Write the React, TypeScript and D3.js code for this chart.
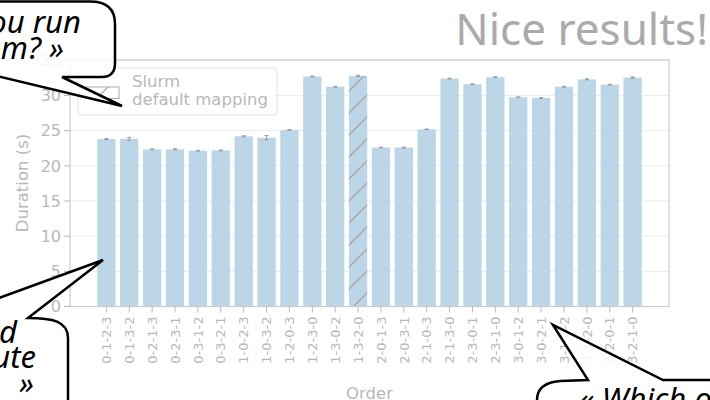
import React from "react";
import * as d3 from "d3";

// permutation orders tested
const orders = [
  "0-1-2-3", "0-1-3-2", "0-2-1-3", "0-2-3-1", "0-3-1-2", "0-3-2-1",
  "1-0-2-3", "1-0-3-2", "1-2-0-3", "1-2-3-0", "1-3-0-2", "1-3-2-0",
  "2-0-1-3", "2-0-3-1", "2-1-0-3", "2-1-3-0", "2-3-0-1", "2-3-1-0",
  "3-0-1-2", "3-0-2-1", "3-1-0-2", "3-1-2-0", "3-2-0-1", "3-2-1-0",
];
const durations = [
  23.8, 23.85, 22.35, 22.35, 22.15, 22.2,
  24.2, 24.0, 25.1, 32.7, 31.25, 32.8,
  22.6, 22.6, 25.2, 32.4, 31.6, 32.6,
  29.75, 29.65, 31.25, 32.3, 31.55, 32.55,
];
const errors = [
  0.08, 0.2, 0.06, 0.08, 0.05, 0.05,
  0.08, 0.3, 0.05, 0.06, 0.05, 0.08,
  0.05, 0.08, 0.04, 0.06, 0.06, 0.08,
  0.06, 0.05, 0.06, 0.08, 0.05, 0.1,
];
const slurmDefault = "1-3-2-0";
const yTicks = [0, 5, 10, 15, 20, 25, 30, 35];

const width = 710;
const height = 400;
const margin = { top: 60, right: 41, bottom: 93.5, left: 70 };

const grey = "#b8b8b8";
const barColor = "#bcd6e8";

export default function App() {
  const x = d3
    .scaleBand()
    .domain(orders)
    .range([margin.left, width - margin.right])
    .paddingInner(0.2)
    .paddingOuter(1.19);
  const y = d3
    .scaleLinear()
    .domain([0, 35.05])
    .range([height - margin.bottom, margin.top]);

  const x0 = margin.left;
  const x1 = width - margin.right;
  const y0 = height - margin.bottom;
  const y1 = margin.top;

  return (
    <svg
      width={width}
      height={height}
      style={{ position: "absolute", left: 0, top: 0, display: "block" }}
      fontFamily="DejaVu Sans"
    >
      <defs>
        <pattern id="hatch" patternUnits="userSpaceOnUse" width={22} height={22}>
          <rect width={22} height={22} fill={barColor} />
          <path d="M0,22 L22,0 M-2,2 L2,-2 M20,24 L24,20" stroke="#a8a8a8" strokeWidth={1.4} />
        </pattern>
        <pattern id="hatchLegend" patternUnits="userSpaceOnUse" width={22} height={22} x={86} y={87}>
          <rect width={22} height={22} fill="#fff" />
          <path d="M0,22 L22,0 M-2,2 L2,-2 M20,24 L24,20" stroke="#a8a8a8" strokeWidth={1.4} />
        </pattern>
      </defs>

      <rect width={width} height={height} fill="#fff" />

      {/* grid */}
      {yTicks.map((t) => (
        <line key={"g" + t} x1={x0} x2={x1} y1={y(t)} y2={y(t)} stroke="#ebebeb" strokeWidth={1} />
      ))}

      {/* bars */}
      {orders.map((o, i) => (
        <rect
          key={o}
          x={x(o)}
          y={y(durations[i])}
          width={x.bandwidth()}
          height={y(0) - y(durations[i])}
          fill={o === slurmDefault ? "url(#hatch)" : barColor}
        />
      ))}

      {/* error bars */}
      {orders.map((o, i) => {
        const cx = (x(o) as number) + x.bandwidth() / 2;
        const lo = y(durations[i] - errors[i]);
        const hi = y(durations[i] + errors[i]);
        return (
          <g key={"e" + o} stroke="#9a9a9a" strokeWidth={1}>
            <line x1={cx} x2={cx} y1={lo} y2={hi} />
            <line x1={cx - 2} x2={cx + 2} y1={lo} y2={lo} />
            <line x1={cx - 2} x2={cx + 2} y1={hi} y2={hi} />
          </g>
        );
      })}

      {/* frame */}
      <rect x={x0} y={y1} width={x1 - x0} height={y0 - y1} fill="none" stroke="#cccccc" strokeWidth={1.2} />

      {/* y axis */}
      {yTicks.map((t) => (
        <g key={"y" + t}>
          <line x1={x0 - 6} x2={x0} y1={y(t)} y2={y(t)} stroke={grey} strokeWidth={1} />
          <text x={x0 - 9} y={y(t)} dy="0.36em" textAnchor="end" fontSize={16} fill={grey}>
            {t}
          </text>
        </g>
      ))}
      <text
        transform={`translate(22,183) rotate(-90)`}
        textAnchor="middle"
        dy="0.36em"
        fontSize={16.5}
        fill={grey}
      >
        Duration (s)
      </text>

      {/* x axis */}
      {orders.map((o) => {
        const cx = (x(o) as number) + x.bandwidth() / 2;
        return (
          <g key={"x" + o}>
            <line x1={cx} x2={cx} y1={y0} y2={y0 + 6} stroke={grey} strokeWidth={1} />
            <text
              transform={`translate(${cx},${y0 + 10}) rotate(-90)`}
              textAnchor="end"
              dy="0.36em"
              fontSize={13}
              fill={grey}
            >
              {o}
            </text>
          </g>
        );
      })}
      <text x={(x0 + x1) / 2} y={399} textAnchor="middle" fontSize={16.5} fill={grey}>
        Order
      </text>

      {/* legend */}
      <rect x={78} y={68} width={199} height={47} rx={3} fill="#fff" fillOpacity={0.8} stroke="#e3e3e3" />
      <rect x={86} y={87} width={33} height={11.5} fill="url(#hatchLegend)" stroke="#aaa" strokeWidth={1} />
      <text x={132} y={87} fontSize={16.5} fill={grey}>Slurm</text>
      <text x={132} y={105} fontSize={16.5} fill={grey}>default mapping</text>

      {/* title */}
      <text x={708} y={45} textAnchor="end" fontFamily="Noto Sans" fontSize={44} fill="#aaaaaa">
        Nice results!
      </text>

      {/* speech bubbles */}
      <g fill="#fff" fillOpacity={0.85} stroke="#000" strokeWidth={2.5} strokeLinejoin="miter">
        <path d="M-20,72 L122,106 L62,77 L102,77 Q115,77 115,63 L115,24 Q115,1.5 90,1.5 L-20,1.5 Z" />
        <path d="M-20,305 L103,260 L28,318 C52,318 68,321 68,338 L68,420 L-20,420 Z" />
        <path d="M553,325 L588,380 L560,381 Q537,383 537,400 L537,420 L720,420 L720,380 L663,380 Z" />
      </g>
      <g fontFamily="Noto Sans" fontStyle="italic" fontSize={31} fill="#000">
        <text x={81} y={33} textAnchor="end">« Did you run</text>
        <text x={64} y={59} textAnchor="end">them? »</text>
        <text x={17} y={343} textAnchor="end">« And</text>
        <text x={36} y={368} textAnchor="end">the compute</text>
        <text x={34} y={394} textAnchor="end">{"time?\u2003»"}</text>
        <text x={579} y={410}>« Which one</text>
      </g>
    </svg>
  );
}
